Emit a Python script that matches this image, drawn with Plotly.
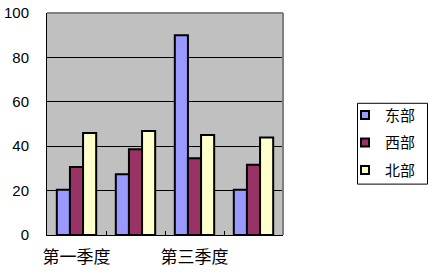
import plotly.graph_objects as go

categories = ["第一季度", "第二季度", "第三季度", "第四季度"]
tick_labels = ["第一季度", "", "第三季度", ""]
series_names = ["东部", "西部", "北部"]
east = [20.4, 27.4, 90, 20.4]
west = [30.6, 38.6, 34.6, 31.6]
north = [45.9, 46.9, 45, 43.9]
colors = ["#9999FF", "#993366", "#FFFFCC"]
y_ticks = [0, 20, 40, 60, 80, 100]

CJK = "Noto Sans CJK SC"
L, R, T, B = 47, 283, 13, 235.5
W, H = 432, 276

def px_x(p):
    return (p - L) / (R - L)

def px_y(p):
    return (B - p) / (B - T)

fig = go.Figure()
for name, vals, c in zip(series_names, [east, west, north], colors):
    fig.add_trace(go.Bar(x=categories, y=vals, name=name, marker=dict(color=c, line=dict(color="black", width=2)),
                         showlegend=False))
for i, (name, c) in enumerate(zip(series_names, colors)):
    fig.add_trace(go.Scatter(x=[None], y=[None], mode="markers", name=name, legendgroup=str(i),
                             marker=dict(symbol="square", size=8, color=c, line=dict(color="black", width=2))))

fig.update_layout(
    width=W, height=H,
    margin=dict(l=L, r=W - R, t=T, b=H - B, pad=0, autoexpand=False),
    paper_bgcolor="white", plot_bgcolor="#C0C0C0",
    barmode="group", bargap=0.333, bargroupgap=0,
    font=dict(family=CJK, size=15, color="black"),
    legend=dict(x=px_x(345), xanchor="left", y=px_y(99), yanchor="top",
                borderwidth=0, bgcolor="rgba(0,0,0,0)",
                font=dict(family=CJK, size=15), tracegroupgap=5, traceorder="grouped",
                itemwidth=30),
    xaxis=dict(type="category", tickvals=categories, ticktext=tick_labels, tickson="boundaries",
               ticks="inside", ticklen=4, tickcolor="black", tickwidth=1, tickangle=0, automargin=False,
               showline=True, linecolor="black", linewidth=1, showgrid=False,
               tickfont=dict(family=CJK, size=17), range=[-0.5, 3.5], ticklabelstandoff=7),
    yaxis=dict(range=[0, 100], tickvals=y_ticks, showgrid=True, gridcolor="black", gridwidth=1,
               showline=True, linecolor="black", linewidth=1, zeroline=False, ticks="", automargin=False,
               tickfont=dict(family="Liberation Sans", size=15), ticklabelstandoff=14),
    shapes=[
        dict(type="line", xref="paper", yref="paper", x0=0, x1=1, y0=1, y1=1, line=dict(color="#808080", width=2), layer="above"),
        dict(type="line", xref="paper", yref="paper", x0=1, x1=1, y0=0, y1=1, line=dict(color="#808080", width=2), layer="above"),
        dict(type="rect", xref="paper", yref="paper", x0=px_x(357.5), x1=px_x(427.5), y0=px_y(184.5), y1=px_y(103.5),
             line=dict(color="black", width=1), fillcolor="white", layer="below"),
    ],
)
fig.write_html("out.html")
